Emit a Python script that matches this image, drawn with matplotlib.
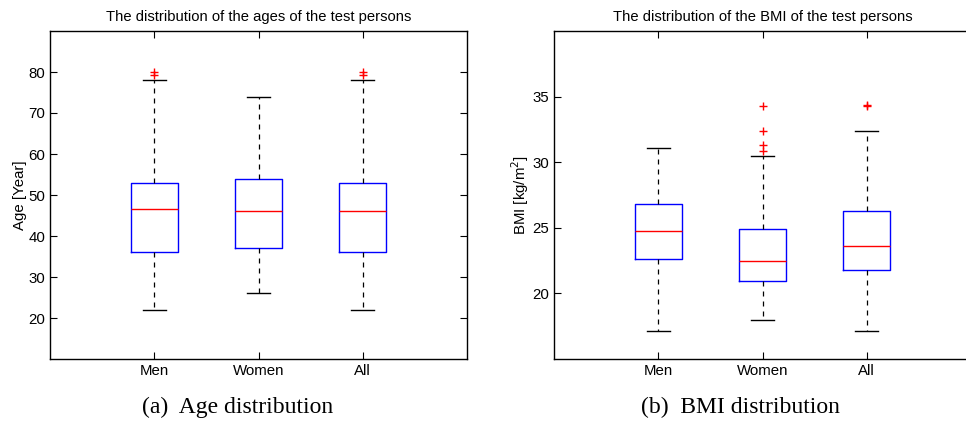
import numpy as np
import matplotlib
matplotlib.use("Agg")
from matplotlib import pyplot as plt

plt.rcParams['font.family'] = ['Liberation Sans', 'DejaVu Sans']

groups = ['Men', 'Women', 'All']

#### age statistics (years)
age_q1 = [36, 37, 36]
age_med = [46.5, 46, 46]
age_q3 = [53, 54, 53]
age_lo = [22, 26, 22]
age_hi = [78, 74, 78]
age_out = [[79.3, 80.0], [], [79.3, 80.0]]

#### BMI statistics (kg/m^2)
bmi_q1 = [22.65, 20.95, 21.8]
bmi_med = [24.75, 22.45, 23.6]
bmi_q3 = [26.85, 24.9, 26.3]
bmi_lo = [17.15, 17.95, 17.15]
bmi_hi = [31.05, 30.5, 32.4]
bmi_out = [[], [34.3, 32.4, 31.3, 30.85], [34.3, 34.35]]


def make_stats(q1, med, q3, lo, hi, out):
    stats = []
    for i in range(len(q1)):
        stats.append(dict(q1=q1[i], med=med[i], q3=q3[i], whislo=lo[i],
                          whishi=hi[i], fliers=out[i], label=groups[i]))
    return stats


def draw(ax, stats, ylim, yticks, title, ylabel, right=True, pad=4):
    ax.bxp(stats, positions=[1, 2, 3], widths=0.45, capwidths=0.22,
           boxprops=dict(color='#0000ff', lw=1.0),
           medianprops=dict(color='#ff0000', lw=1.0),
           whiskerprops=dict(color='black', lw=0.9, linestyle=(0, (4, 4))),
           capprops=dict(color='black', lw=1.0),
           flierprops=dict(marker='+', markeredgecolor='#ff0000',
                           markersize=6, markeredgewidth=1.0, linestyle='none'))
    ax.set_xlim(0, 4)
    ax.set_ylim(*ylim)
    ax.set_yticks(yticks)
    ax.set_xticks([1, 2, 3])
    ax.set_xticklabels(groups)
    ax.tick_params(direction='in', top=True, right=right, length=5,
                   labelsize=10.8, width=0.8)
    ax.set_title(title, fontsize=10.6, pad=7)
    ax.set_ylabel(ylabel, fontsize=10.8, labelpad=pad)
    for s in ax.spines.values():
        s.set_linewidth(1.0)


fig = plt.figure(figsize=[9.66, 4.23], dpi=100)
ax1 = fig.add_axes([50 / 966, 64 / 423, 417 / 966, 328 / 423])
ax2 = fig.add_axes([554 / 966, 64 / 423, 417 / 966, 328 / 423])

draw(ax1, make_stats(age_q1, age_med, age_q3, age_lo, age_hi, age_out),
     (10, 90), [20, 30, 40, 50, 60, 70, 80],
     'The distribution of the ages of the test persons', 'Age [Year]', pad=1)
draw(ax2, make_stats(bmi_q1, bmi_med, bmi_q3, bmi_lo, bmi_hi, bmi_out),
     (15, 40), [20, 25, 30, 35],
     'The distribution of the BMI of the test persons', 'BMI [kg/m$^2$]',
     right=False, pad=1)

#### sub captions
fig.text(238 / 966, 1 - 407 / 423, '(a)  Age distribution', ha='center',
         va='center', fontsize=17, family='Liberation Serif')
fig.text(740 / 966, 1 - 407 / 423, '(b)  BMI distribution', ha='center',
         va='center', fontsize=17, family='Liberation Serif')

fig.savefig('out.png', dpi=100)
